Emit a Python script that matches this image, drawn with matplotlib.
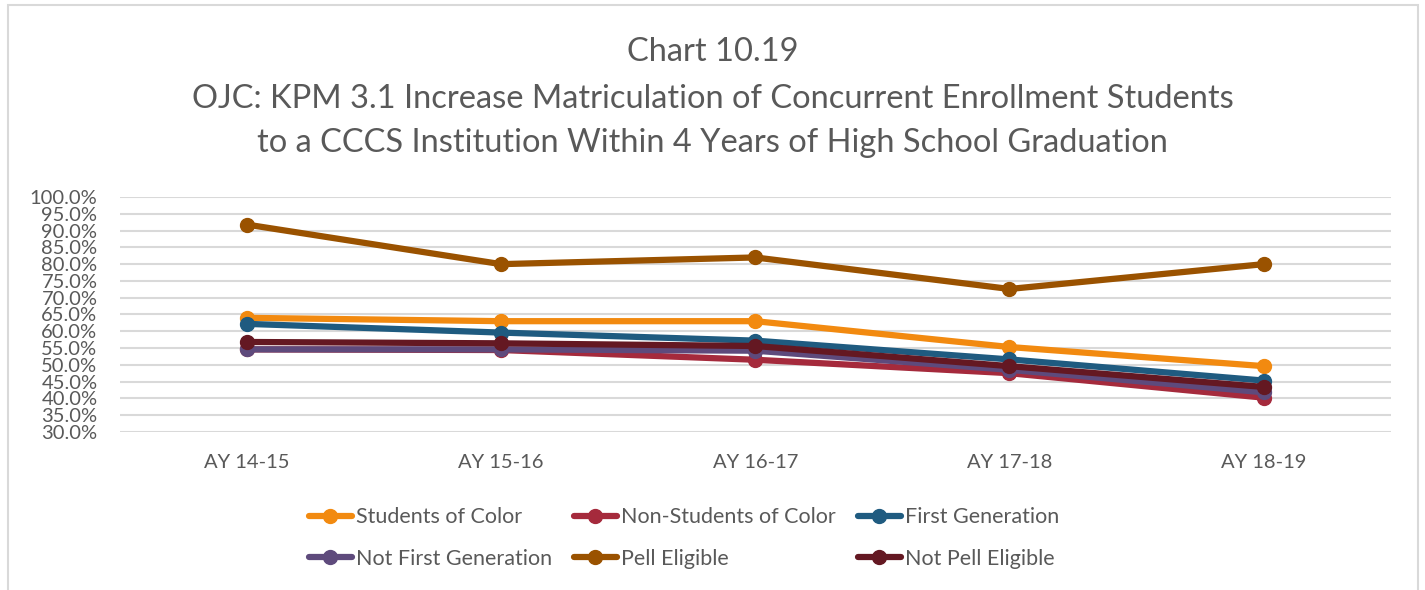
import matplotlib
matplotlib.use("Agg")
import matplotlib.pyplot as plt
from matplotlib.patches import Rectangle
from matplotlib.ticker import FuncFormatter

plt.rcParams['font.family'] = ['Lato', 'DejaVu Sans']

categories = ["AY 14-15", "AY 15-16", "AY 16-17", "AY 17-18", "AY 18-19"]
series_names = ["Students of Color", "Non-Students of Color", "First Generation",
                "Not First Generation", "Pell Eligible", "Not Pell Eligible"]
students_of_color = [64.0, 63.0, 63.0, 55.3, 49.6]
non_students_of_color = [54.6, 54.4, 51.5, 47.5, 40.2]
first_generation = [62.2, 59.6, 57.2, 51.6, 45.3]
not_first_generation = [54.6, 54.6, 54.2, 48.5, 41.8]
pell_eligible = [91.8, 80.0, 82.0, 72.6, 80.0]
not_pell_eligible = [56.8, 56.4, 55.6, 49.6, 43.4]

colors = ["#F28A10", "#A52A3C", "#1F5B80", "#5E4A7C", "#9A5200", "#641822"]
values = [students_of_color, non_students_of_color, first_generation,
          not_first_generation, pell_eligible, not_pell_eligible]

fig = plt.figure(figsize=(14.25, 5.9), dpi=100)
fig.patches.append(Rectangle((8 / 1425, -0.01), 1410 / 1425, 1 - 5 / 590 + 0.01,
                             transform=fig.transFigure, fill=False,
                             edgecolor="#D9D9D9", linewidth=1.5))

ax = fig.add_axes([0.084, 0.268, 0.892, 0.398])
x = list(range(len(categories)))
handles = []
for name, vals, c in zip(series_names, values, colors):
    h, = ax.plot(x, vals, color=c, linewidth=4.5, marker="o", markersize=10,
                 label=name, solid_capstyle="round")
    handles.append(h)

ax.set_xlim(-0.5, len(categories) - 0.5)
ax.set_ylim(30, 100)
ax.set_yticks(range(30, 101, 5))
ax.yaxis.set_major_formatter(FuncFormatter(lambda v, p: f"{v:.1f}%"))
ax.set_xticks(x)
ax.set_xticklabels(categories)
ax.tick_params(axis="y", length=0, pad=16, labelsize=14.5, labelcolor="#595959")
ax.tick_params(axis="x", length=0, pad=16, labelsize=14.5, labelcolor="#595959")
ax.grid(axis="y", color="#D9D9D9", linewidth=1.5)
ax.set_axisbelow(True)
for s in ax.spines.values():
    s.set_visible(False)

title_kw = dict(ha="center", va="center", fontsize=23.5, color="#595959")
fig.text(0.5, 1 - 52 / 590, "Chart 10.19", **title_kw)
fig.text(0.5, 1 - 99 / 590,
         "OJC: KPM 3.1 Increase Matriculation of Concurrent Enrollment Students",
         **title_kw)
fig.text(0.5, 1 - 143 / 590,
         "to a CCCS Institution Within 4 Years of High School Graduation",
         **title_kw)

order = [0, 3, 1, 4, 2, 5]
leg = fig.legend([handles[i] for i in order], [series_names[i] for i in order],
                 ncol=3, loc="center", bbox_to_anchor=(0.48, 1 - 538 / 590),
                 frameon=False, fontsize=15.5, labelcolor="#595959",
                 handlelength=2.0, handletextpad=0.2, columnspacing=1.0,
                 labelspacing=1.0)

fig.savefig("out.png", dpi=100)
